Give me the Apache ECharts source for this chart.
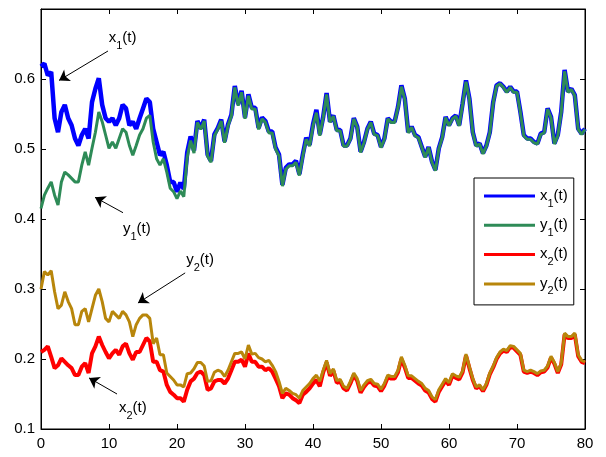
<!DOCTYPE html>
<html><head><meta charset="utf-8">
<script src="https://cdn.jsdelivr.net/npm/echarts/dist/echarts.min.js"></script>
<style>html,body{margin:0;padding:0;background:#fff}#c{width:606px;height:457px}</style>
</head><body><div id="c"></div>
<script>
const T = [0,0.5,1,1.5,2,2.5,3,3.5,4,4.5,5,5.5,6,6.5,7,7.5,8,8.5,9,9.5,10,10.5,11,11.5,12,12.5,13,13.5,14,14.5,15,15.5,16,16.5,17,17.5,18,18.5,19,19.5,20,20.5,21,21.5,22,22.5,23,23.5,24,24.5,25,25.5,26,26.5,27,27.5,28,28.5,29,29.5,30,30.5,31,31.5,32,32.5,33,33.5,34,34.5,35,35.5,36,36.5,37,37.5,38,38.5,39,39.5,40,40.5,41,41.5,42,42.5,43,43.5,44,44.5,45,45.5,46,46.5,47,47.5,48,48.5,49,49.5,50,50.5,51,51.5,52,52.5,53,53.5,54,54.5,55,55.5,56,56.5,57,57.5,58,58.5,59,59.5,60,60.5,61,61.5,62,62.5,63,63.5,64,64.5,65,65.5,66,66.5,67,67.5,68,68.5,69,69.5,70,70.5,71,71.5,72,72.5,73,73.5,74,74.5,75,75.5,76,76.5,77,77.5,78,78.5,79,79.5,80];

const x1 = [0.618,0.622,0.605,0.610,0.544,0.524,0.553,0.563,0.544,0.534,0.515,0.505,0.520,0.529,0.515,0.567,0.586,0.601,0.563,0.544,0.539,0.544,0.534,0.544,0.563,0.558,0.534,0.539,0.529,0.544,0.558,0.572,0.567,0.529,0.510,0.491,0.496,0.477,0.453,0.453,0.439,
0.452,0.443,0.495,0.518,0.498,0.540,0.530,0.542,0.492,0.483,0.521,0.530,0.542,0.511,0.535,0.549,0.590,0.564,0.583,0.545,0.578,0.559,0.559,0.530,0.545,0.540,0.525,0.525,0.502,0.492,0.449,0.473,0.478,0.478,0.483,0.464,0.492,0.516,0.506,0.535,0.556,0.521,
0.546,0.580,0.539,0.548,0.527,0.527,0.505,0.505,0.515,0.544,0.532,0.496,0.510,0.529,0.539,0.522,0.520,0.503,0.515,0.544,0.539,0.539,0.560,0.591,0.572,0.524,0.532,0.520,0.517,0.503,0.489,0.503,0.482,0.470,0.501,0.517,0.546,0.534,0.544,0.548,0.534,
0.565,0.598,0.572,0.524,0.505,0.508,0.494,0.505,0.524,0.567,0.591,0.594,0.589,0.582,0.589,0.582,0.582,0.553,0.520,0.515,0.515,0.510,0.508,0.522,0.524,0.558,0.546,0.508,0.520,0.553,0.613,0.582,0.586,0.577,0.529,0.522,0.529];

const y1 = [0.415,0.434,0.444,0.453,0.434,0.420,0.453,0.467,0.463,0.458,0.453,0.453,0.477,0.496,0.477,0.501,0.524,0.553,0.539,0.520,0.501,0.510,0.501,0.515,0.529,0.524,0.505,0.491,0.505,0.520,0.529,0.544,0.548,0.510,0.486,0.477,0.486,0.467,0.444,0.439,0.429,
0.440,0.432,0.488,0.512,0.494,0.538,0.528,0.540,0.490,0.481,0.519,0.528,0.540,0.509,0.533,0.547,0.588,0.562,0.581,0.543,0.576,0.557,0.557,0.528,0.543,0.538,0.523,0.523,0.500,0.490,0.447,0.471,0.476,0.476,0.481,0.462,0.490,0.514,0.504,0.533,0.552,0.519,
0.545,0.578,0.538,0.547,0.526,0.526,0.504,0.504,0.514,0.543,0.531,0.495,0.509,0.528,0.538,0.521,0.519,0.502,0.514,0.543,0.538,0.538,0.559,0.589,0.571,0.523,0.531,0.519,0.516,0.502,0.488,0.502,0.481,0.469,0.500,0.516,0.545,0.533,0.543,0.547,0.533,
0.564,0.596,0.571,0.523,0.504,0.507,0.493,0.504,0.523,0.566,0.590,0.593,0.588,0.581,0.588,0.581,0.581,0.552,0.519,0.514,0.514,0.509,0.507,0.521,0.523,0.557,0.545,0.507,0.519,0.552,0.611,0.581,0.585,0.576,0.528,0.521,0.528];

const x2 = [0.210,0.213,0.218,0.203,0.187,0.191,0.201,0.196,0.191,0.187,0.177,0.177,0.189,0.194,0.180,0.208,0.218,0.232,0.220,0.210,0.201,0.208,0.213,0.206,0.218,0.222,0.208,0.199,0.210,0.210,0.220,0.230,0.225,0.196,0.196,0.184,0.182,0.163,0.153,0.149,0.144,
0.144,0.139,0.156,0.168,0.172,0.180,0.182,0.177,0.156,0.158,0.168,0.170,0.170,0.165,0.172,0.184,0.196,0.196,0.199,0.189,0.208,0.196,0.196,0.189,0.189,0.184,0.187,0.182,0.172,0.161,0.144,0.151,0.149,0.144,0.141,0.137,0.149,0.153,0.158,0.165,0.170,0.161,
0.181,0.195,0.176,0.183,0.166,0.168,0.158,0.155,0.165,0.177,0.169,0.152,0.160,0.166,0.168,0.162,0.161,0.154,0.162,0.174,0.172,0.172,0.181,0.200,0.188,0.173,0.173,0.169,0.165,0.162,0.155,0.152,0.143,0.139,0.153,0.161,0.169,0.163,0.176,0.173,0.171,
0.181,0.205,0.187,0.170,0.158,0.161,0.154,0.163,0.178,0.188,0.200,0.208,0.212,0.210,0.217,0.216,0.211,0.206,0.182,0.180,0.182,0.180,0.177,0.181,0.182,0.188,0.202,0.193,0.180,0.192,0.235,0.230,0.230,0.235,0.204,0.196,0.194];

const y2 = [0.300,0.325,0.320,0.326,0.296,0.272,0.277,0.296,0.282,0.272,0.249,0.249,0.268,0.272,0.253,0.272,0.291,0.300,0.282,0.258,0.253,0.268,0.263,0.258,0.268,0.263,0.253,0.232,0.249,0.258,0.263,0.263,0.258,0.222,0.230,0.206,0.206,0.180,0.175,0.170,0.163,
0.163,0.160,0.179,0.180,0.186,0.195,0.195,0.190,0.168,0.169,0.181,0.184,0.182,0.175,0.184,0.196,0.208,0.208,0.210,0.200,0.220,0.207,0.208,0.202,0.200,0.196,0.198,0.191,0.182,0.168,0.151,0.158,0.155,0.151,0.149,0.144,0.155,0.160,0.165,0.172,0.177,0.168,
0.184,0.198,0.179,0.186,0.169,0.171,0.161,0.158,0.168,0.180,0.172,0.155,0.163,0.169,0.171,0.165,0.164,0.157,0.165,0.177,0.175,0.175,0.184,0.203,0.191,0.176,0.176,0.172,0.168,0.165,0.158,0.155,0.146,0.142,0.156,0.164,0.172,0.166,0.179,0.176,0.174,
0.183,0.207,0.189,0.172,0.160,0.163,0.156,0.165,0.180,0.190,0.202,0.210,0.214,0.212,0.219,0.218,0.213,0.208,0.184,0.182,0.184,0.182,0.179,0.183,0.184,0.190,0.204,0.195,0.182,0.194,0.237,0.232,0.232,0.237,0.206,0.198,0.196];

const seriesNames = ['x1(t)','y1(t)','x2(t)','y2(t)'];
const seriesColors = ['#0000ff','#2e8b57','#ff0000','#b8860b'];
const seriesWidths = [4.5,3,4,3];
const xTicks = {min:0, max:80, interval:10};
const yTicks = {min:0.1, max:0.7, interval:0.1};

// annotations: [letter, subscript, label centre [t,v], arrow start [t,v], arrow tip [t,v]]
const notes = [
  ['x','1',[12.0,0.6586],[9.85,0.640],[2.65,0.598]],
  ['y','1',[14.1,0.3857],[12.06,0.409],[7.94,0.431]],
  ['y','2',[23.4,0.3414],[21.2,0.323],[14.26,0.280]],
  ['x','2',[13.5,0.130],[11.18,0.150],[7.06,0.173]]
];

const FONT = 'Liberation Sans, Arial, Helvetica, sans-serif';
const rich = {
  m:{fontSize:15, lineHeight:16, verticalAlign:'top', color:'#000', fontFamily:FONT},
  s:{fontSize:11, lineHeight:12, padding:[10,0,0,0], verticalAlign:'top', color:'#000', fontFamily:FONT}
};
function richName(n){ return '{m|' + n[0] + '}{s|' + n[1] + '}{m|' + n.slice(2) + '}'; }

const data = [x1,y1,x2,y2];
const series = data.map((vals,i)=>({
  name: seriesNames[i], type:'line', showSymbol:false, symbol:'none',
  data: T.map((t,k)=>[t, vals[k]]),
  lineStyle:{color:seriesColors[i], width:seriesWidths[i]},
  itemStyle:{color:seriesColors[i]},
  z: 2+i, silent:true
}));
series[3].markLine = {
  silent:true, symbol:['none','arrow'], symbolSize:10, animation:false,
  label:{show:false}, lineStyle:{color:'#000', width:1, type:'solid'},
  emphasis:{disabled:true},
  data: notes.map(n=>[{coord:n[3]},{coord:n[4]}])
};
series[3].markPoint = {
  silent:true, symbol:'rect', symbolSize:0, animation:false,
  label:{show:true, position:'inside', rich:rich},
  data: notes.map(n=>({coord:n[2], value:0, label:{formatter: '{m|'+n[0]+'}{s|'+n[1]+'}{m|(t)}'}}))
};

const axisCommon = {
  axisLine:{show:true, onZero:false, lineStyle:{color:'#000', width:1}},
  axisTick:{show:true, inside:true, length:5, lineStyle:{color:'#000'}},
  splitLine:{show:false}
};
const chart = echarts.init(document.getElementById('c'), null, {renderer:'canvas'});
chart.setOption({
  animation:false,
  backgroundColor:'#fff',
  grid:{left:41, top:9, right:21, bottom:28, show:true, borderColor:'#000', borderWidth:1},
  legend:{
    orient:'vertical', left:474, top:178, padding:[10,6,8,10],
    icon:'rect', itemWidth:51, itemHeight:3, itemGap:8.3,
    backgroundColor:'#fff', borderColor:'#000', borderWidth:1, borderRadius:0,
    data: seriesNames, formatter: richName,
    textStyle:{rich:rich}, selectedMode:false
  },
  xAxis:[
    Object.assign({type:'value', position:'bottom', min:xTicks.min, max:xTicks.max, interval:xTicks.interval,
      axisLabel:{color:'#000', fontSize:15, fontFamily:FONT, margin:7}}, axisCommon),
    Object.assign({type:'value', position:'top', min:xTicks.min, max:xTicks.max, interval:xTicks.interval,
      axisLabel:{show:false}}, axisCommon)
  ],
  yAxis:[
    Object.assign({type:'value', position:'left', min:yTicks.min, max:yTicks.max, interval:yTicks.interval,
      axisLabel:{color:'#000', fontSize:15, fontFamily:FONT, margin:6,
        formatter:v=> Math.abs(v-0.7)<1e-6 ? '' : v.toFixed(1)}}, axisCommon),
    Object.assign({type:'value', position:'right', min:yTicks.min, max:yTicks.max, interval:yTicks.interval,
      axisLabel:{show:false}}, axisCommon)
  ],
  series: series
});
</script></body></html>
